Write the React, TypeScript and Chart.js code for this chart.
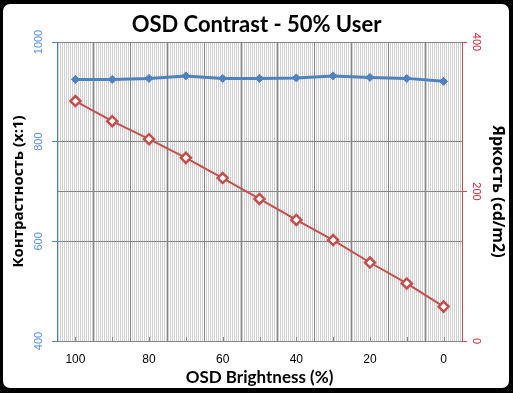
import React, { useEffect, useRef } from 'react';
import { Chart, registerables } from 'chart.js';

Chart.register(...registerables);

const categories = ['100', '90', '80', '70', '60', '50', '40', '30', '20', '10', '0'];
const contrastValues = [925, 925, 927, 932, 927, 927, 928, 932, 929, 927, 921];
const brightnessValues = [321, 294, 270, 245, 218, 190, 162, 135, 105, 77, 46];
const contrastTicks = [400, 600, 800, 1000];
const brightnessTicks = [0, 200, 400];
const shownCategoryLabels = ['100', '80', '60', '40', '20', '0'];

const LATIN = 'Lato, "Open Sans", sans-serif';
const CYR = '"Open Sans", "Noto Sans", sans-serif';
const NUM = '"Liberation Sans", Arial, sans-serif';
const BLUE = '#4f81bd';
const BLUE_TXT = '#5a8fd8';
const RED = '#c0504d';
const RED_TXT = '#c0303a';
const GRID = '#858585';

const decorPlugin = {
  id: 'decor',
  beforeDraw(chart: any) {
    const { ctx, chartArea: a } = chart;
    const pc = document.createElement('canvas');
    pc.width = 2;
    pc.height = 1;
    const p = pc.getContext('2d')!;
    p.fillStyle = '#ffffff';
    p.fillRect(0, 0, 2, 1);
    p.fillStyle = '#d0d0d0';
    p.fillRect(0, 0, 1, 1);
    const pat = ctx.createPattern(pc, 'repeat');
    ctx.save();
    ctx.fillStyle = pat;
    ctx.fillRect(a.left, a.top, a.right - a.left, a.bottom - a.top);
    ctx.restore();
  },
  beforeDatasetsDraw(chart: any) {
    const { ctx, chartArea: a } = chart;
    const xs = chart.scales.x;
    ctx.save();
    ctx.strokeStyle = GRID;
    ctx.lineWidth = 1;
    categories.forEach((_, i) => {
      const x = Math.round(xs.getPixelForValue(i)) + 0.5;
      ctx.beginPath();
      ctx.moveTo(x, a.bottom);
      ctx.lineTo(x, a.bottom - 4);
      ctx.stroke();
    });
    ctx.restore();
  },
  afterDraw(chart: any) {
    const { ctx } = chart;
    const y = chart.scales.y;
    const y1 = chart.scales.y1;
    ctx.save();
    ctx.font = `11px ${NUM}`;
    ctx.textAlign = 'center';
    ctx.textBaseline = 'middle';
    ctx.fillStyle = BLUE_TXT;
    y.ticks.forEach((t: any) => {
      const py = y.getPixelForValue(t.value);
      ctx.save();
      ctx.translate(y.right - 18, py);
      ctx.rotate(-Math.PI / 2);
      ctx.fillText(String(t.value), 0, 0);
      ctx.restore();
    });
    ctx.fillStyle = RED_TXT;
    y1.ticks.forEach((t: any) => {
      const py = y1.getPixelForValue(t.value);
      ctx.save();
      ctx.translate(y1.left + 14, py);
      ctx.rotate(Math.PI / 2);
      ctx.fillText(String(t.value), 0, 0);
      ctx.restore();
    });
    ctx.restore();
  },
};

export default function App() {
  const ref = useRef<HTMLCanvasElement>(null);

  useEffect(() => {
    const chart = new Chart(ref.current!, {
      type: 'line',
      data: {
        labels: categories,
        datasets: [
          {
            label: 'Контрастность',
            data: contrastValues,
            yAxisID: 'y',
            borderColor: BLUE,
            backgroundColor: BLUE,
            borderWidth: 3,
            pointStyle: 'rectRot',
            pointRadius: 4,
            pointBorderWidth: 1,
            pointBackgroundColor: BLUE,
            pointBorderColor: BLUE,
            tension: 0,
          },
          {
            label: 'Яркость',
            data: brightnessValues,
            yAxisID: 'y1',
            borderColor: RED,
            backgroundColor: '#ffffff',
            borderWidth: 2,
            pointStyle: 'rectRot',
            pointRadius: 5,
            pointBorderWidth: 2.5,
            pointBackgroundColor: '#ffffff',
            pointBorderColor: RED,
            tension: 0,
          },
        ],
      },
      options: {
        animation: false,
        responsive: false,
        maintainAspectRatio: false,
        layout: { padding: 0 },
        plugins: {
          legend: { display: false },
          tooltip: { enabled: false },
          title: {
            display: true,
            text: 'OSD Contrast - 50% User',
            color: '#000',
            font: { family: LATIN, size: 22, weight: 'bold', lineHeight: 1.2 },
            padding: { top: 12, bottom: 3.6 },
          },
        },
        scales: {
          x: {
            type: 'category',
            offset: true,
            grid: {
              offset: true,
              drawTicks: false,
              color: (c: any) => (c.index === 0 || c.index === undefined ? 'rgba(0,0,0,0)' : GRID),
            },
            border: { display: true, color: GRID },
            ticks: {
              autoSkip: false,
              maxRotation: 0,
              minRotation: 0,
              padding: 11,
              color: '#000',
              font: { family: NUM, size: 12 },
              callback: (_v: any, i: number) =>
                shownCategoryLabels.includes(categories[i]) ? categories[i] : '',
            },
            title: {
              display: true,
              text: 'OSD Brightness (%)',
              color: '#000',
              font: { family: LATIN, size: 17, weight: 'bold', lineHeight: 1.2 },
              padding: { top: 0, bottom: 5 },
            },
            afterFit: (s: any) => {
              s.height = 52;
            },
          },
          y: {
            position: 'left',
            min: 400,
            max: 1000,
            afterBuildTicks: (s: any) => {
              s.ticks = contrastTicks.map((v) => ({ value: v }));
            },
            ticks: { display: false },
            grid: { color: GRID, tickColor: BLUE, tickLength: 5 },
            border: { display: true, color: BLUE, z: 1 },
            title: {
              display: true,
              text: 'Контрастность (x:1)',
              color: '#000',
              font: { family: CYR, size: 15, weight: 'bold', lineHeight: 1.2 },
              padding: { top: 10, bottom: 0 },
            },
            afterFit: (s: any) => {
              s.width = 57;
            },
          },
          y1: {
            position: 'right',
            min: 0,
            max: 400,
            afterBuildTicks: (s: any) => {
              s.ticks = brightnessTicks.map((v) => ({ value: v }));
            },
            ticks: { display: false },
            grid: { color: GRID, tickColor: RED, tickLength: 5 },
            border: { display: true, color: RED, z: 1 },
            title: {
              display: true,
              text: 'Яркость (cd/m2)',
              color: '#000',
              font: { family: CYR, size: 16, weight: 'bold', lineHeight: 1.2 },
              padding: { top: 6, bottom: 0 },
            },
            afterFit: (s: any) => {
              s.width = 51;
            },
          },
        },
      },
      plugins: [decorPlugin],
    } as any);
    return () => chart.destroy();
  }, []);

  return (
    <div
      style={{
        position: 'fixed',
        left: 0,
        top: 0,
        width: 513,
        height: 393,
        background: '#000',
        overflow: 'hidden',
      }}
    >
      <div
        style={{
          position: 'absolute',
          left: 3,
          top: 4,
          width: 506,
          height: 384,
          background: '#fff',
          borderRadius: 7,
        }}
      />
      <canvas
        ref={ref}
        width={513}
        height={393}
        style={{ position: 'absolute', left: 0, top: 0, width: 513, height: 393 }}
      />
    </div>
  );
}
